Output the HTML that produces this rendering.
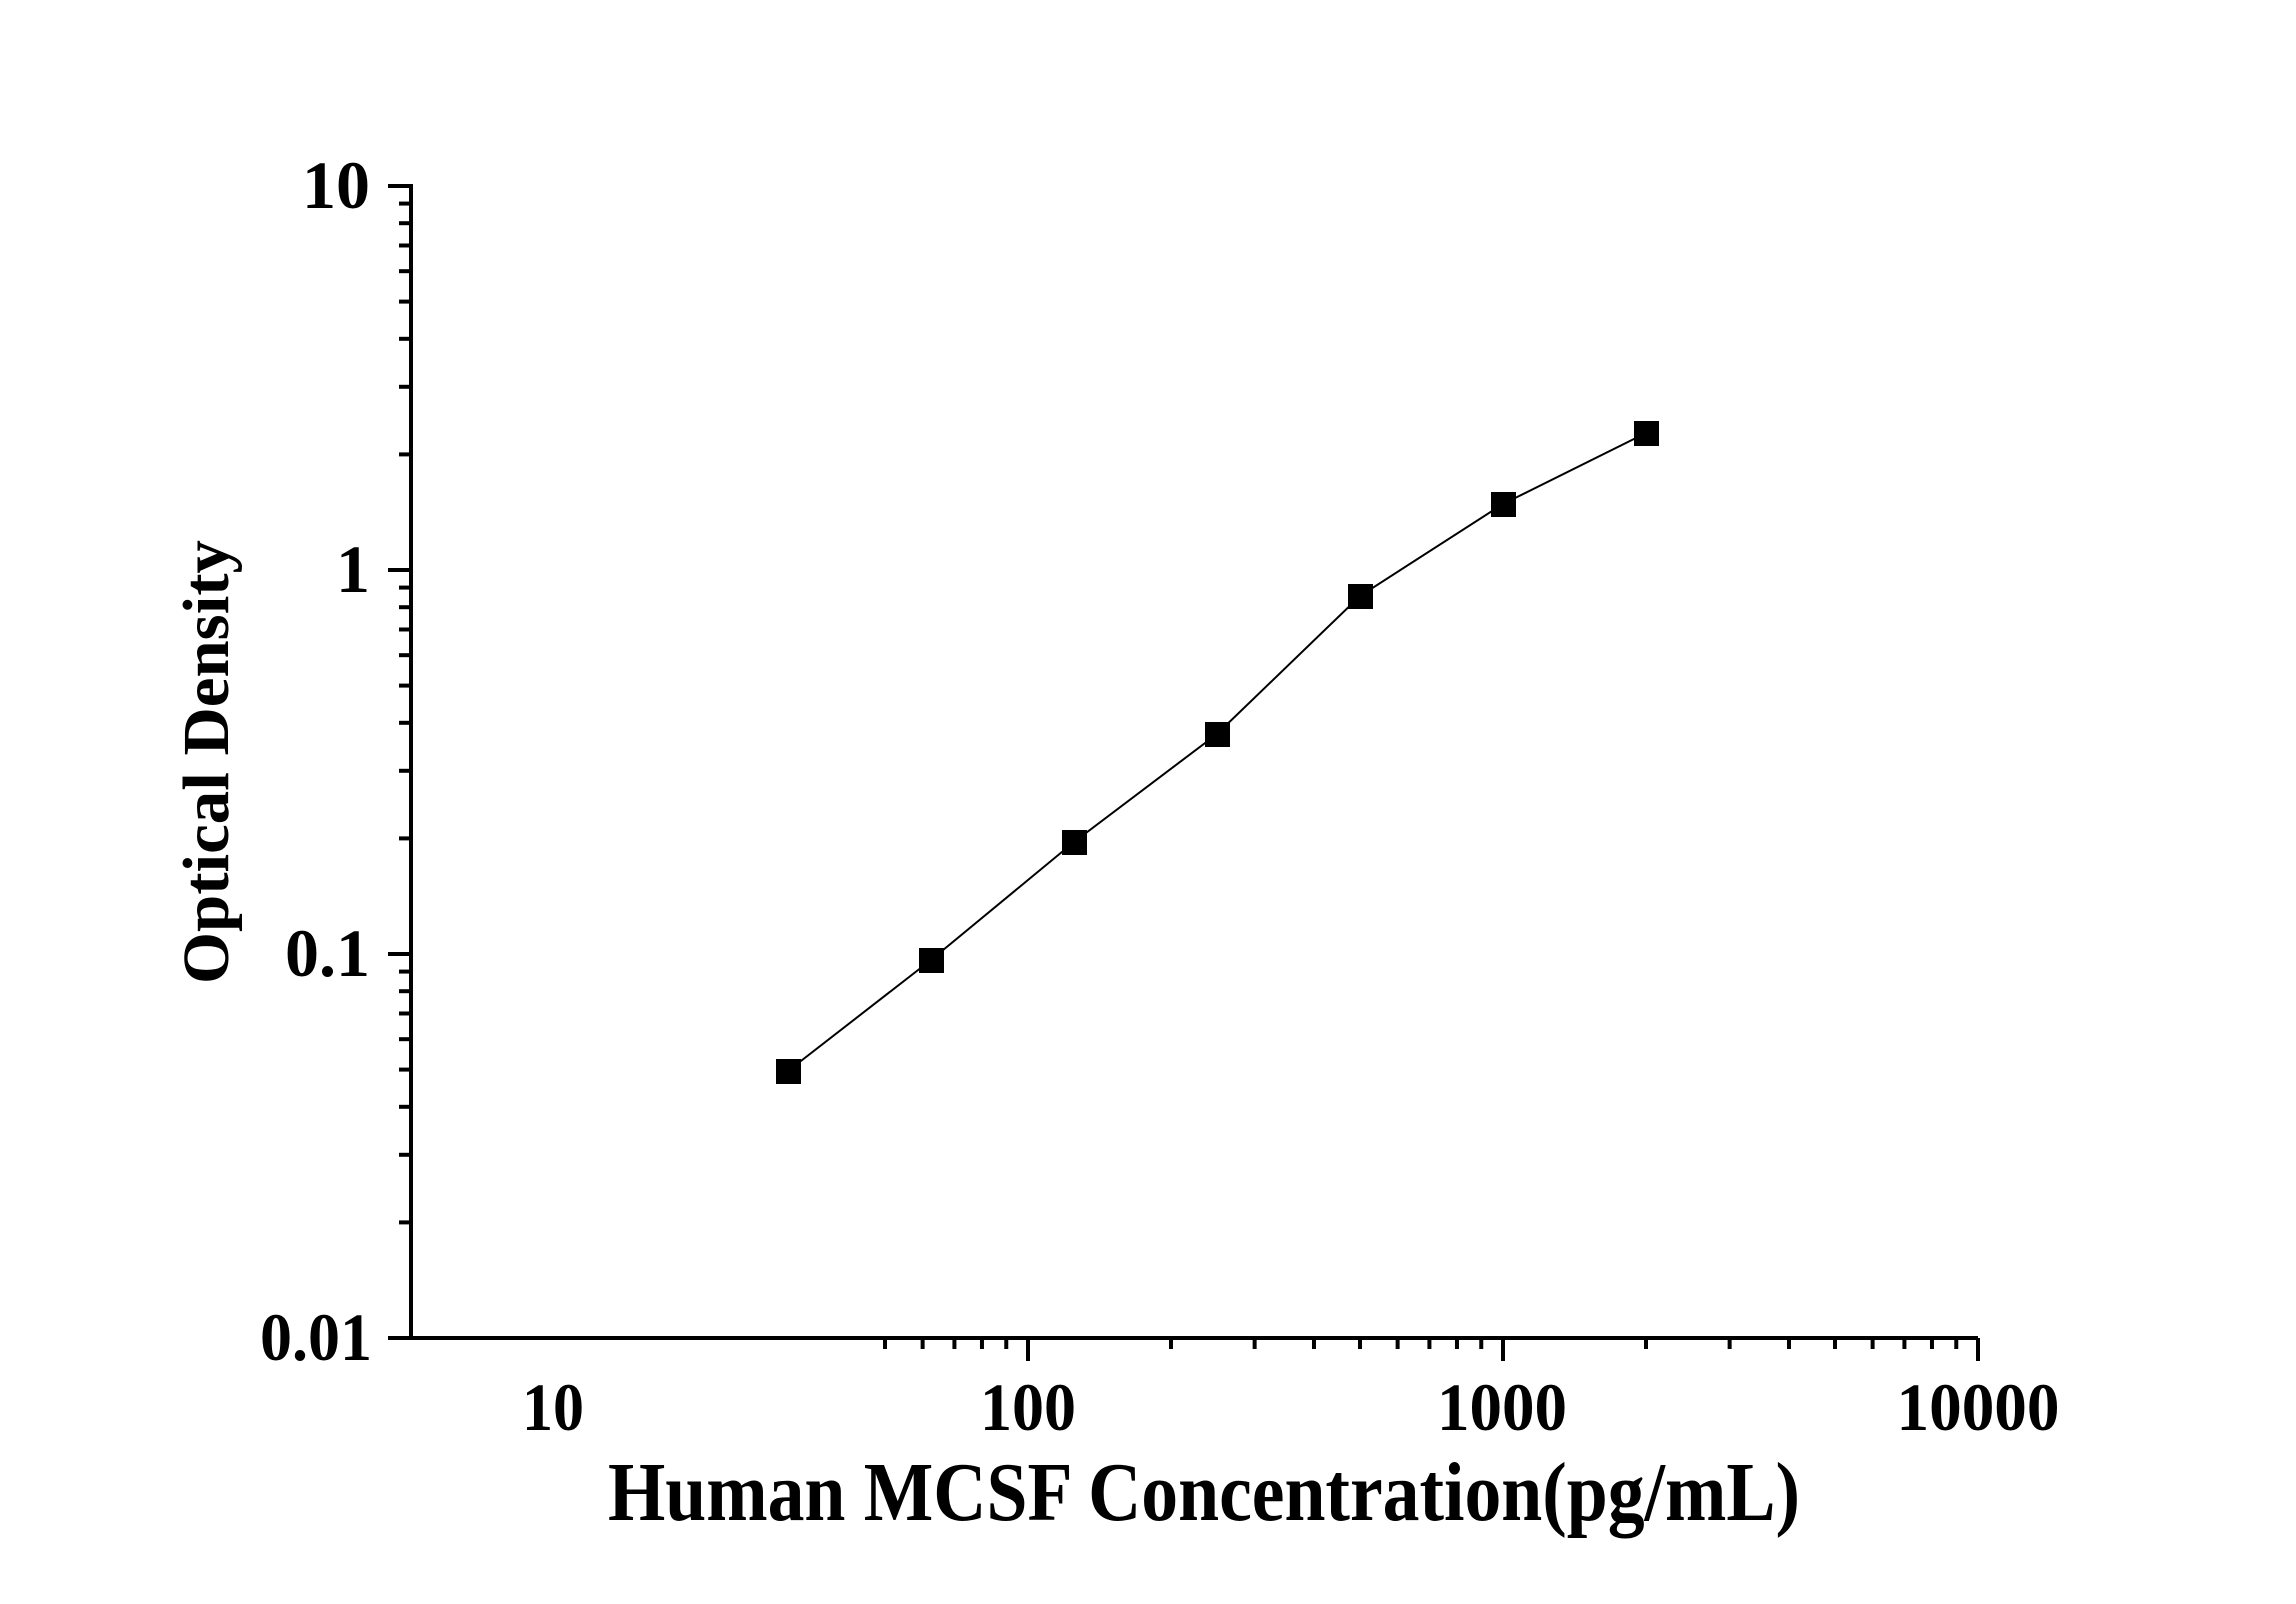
<!DOCTYPE html>
<html><head><meta charset="utf-8"><style>html,body{margin:0;padding:0;background:#fff}svg{display:block}</style></head>
<body>
<svg width="2296" height="1604" viewBox="0 0 2296 1604" xmlns="http://www.w3.org/2000/svg" font-family="'Liberation Serif', serif" font-weight="bold">
<rect width="2296" height="1604" fill="#fff"/>
<g stroke="#000" stroke-width="4" fill="none">
<line x1="411" y1="184" x2="411" y2="1340"/>
<line x1="409" y1="1338" x2="1978" y2="1338"/>
</g>
<g id="ticks" stroke="#000" stroke-width="4"></g>
<polyline fill="none" stroke="#000" stroke-width="2" points="788,1071 931,960 1074,842 1217,734 1360,596 1503,504 1646,433"/>
<g fill="#000">
<rect x="776" y="1059" width="25" height="25"/>
<rect x="919" y="948" width="25" height="25"/>
<rect x="1062" y="830" width="25" height="25"/>
<rect x="1205" y="722" width="25" height="25"/>
<rect x="1348" y="584" width="25" height="25"/>
<rect x="1491" y="492" width="25" height="25"/>
<rect x="1634" y="421" width="25" height="25"/>
</g>
<g font-size="68" text-anchor="end" fill="#000">
<text x="370" y="208">10</text>
<text x="370" y="592">1</text>
<text x="370" y="976">0.1</text>
<text x="372" y="1360" textLength="112" lengthAdjust="spacingAndGlyphs">0.01</text>
</g>
<g font-size="68" text-anchor="middle" fill="#000">
<text x="553" y="1430" textLength="62" lengthAdjust="spacingAndGlyphs">10</text>
<text x="1028" y="1430" textLength="96" lengthAdjust="spacingAndGlyphs">100</text>
<text x="1502" y="1430" textLength="130" lengthAdjust="spacingAndGlyphs">1000</text>
<text x="1978" y="1430" textLength="163" lengthAdjust="spacingAndGlyphs">10000</text>
</g>
<text x="1204" y="1520" font-size="84" text-anchor="middle" textLength="1192" lengthAdjust="spacingAndGlyphs">Human MCSF Concentration(pg/mL)</text>
<text transform="translate(228,762) rotate(-90)" font-size="66" text-anchor="middle" textLength="444" lengthAdjust="spacingAndGlyphs">Optical Density</text>
</svg>
<script>
var g=document.getElementById('ticks'),ns='http://www.w3.org/2000/svg';
function L(a,b,c,d){var l=document.createElementNS(ns,'line');l.setAttribute('x1',a);l.setAttribute('y1',b);l.setAttribute('x2',c);l.setAttribute('y2',d);g.appendChild(l);}
var y0=570,dy=384;
for(var e=-2;e<=1;e++){for(var m=1;m<=9;m++){var v=e+Math.log10(m);if(v>1.0001)break;if(e==1&&m>1)break;var y=y0-v*dy;L(411,y,m==1?388:399,y);}}
var x0=553,dx=475;
for(var e=0;e<=4;e++){for(var m=1;m<=9;m++){var v=e-1+Math.log10(m);if(v<Math.log10(5)-1e-6||v>3.0001)continue;var x=x0+v*dx;L(x,1338,x,m==1?1361:1349);}}
</script>
</body></html>
